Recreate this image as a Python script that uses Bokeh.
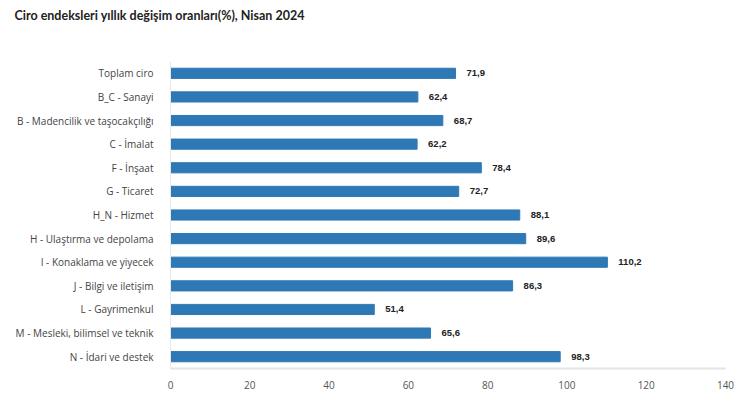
from bokeh.plotting import figure
from bokeh.models import ColumnDataSource, FactorRange, LabelSet, Range1d, FixedTicker, Title
from bokeh.core.properties import value
from bokeh.embed import file_html
from bokeh.resources import INLINE

categories = ["Toplam ciro", "B_C - Sanayi", "B - Madencilik ve taşocakçılığı", "C - İmalat",
              "F - İnşaat", "G - Ticaret", "H_N - Hizmet", "H - Ulaştırma ve depolama",
              "I - Konaklama ve yiyecek", "J - Bilgi ve iletişim", "L - Gayrimenkul",
              "M - Mesleki, bilimsel ve teknik", "N - İdari ve destek"]
values = [71.9, 62.4, 68.7, 62.2, 78.4, 72.7, 88.1, 89.6, 110.2, 86.3, 51.4, 65.6, 98.3]
x_ticks = [0, 20, 40, 60, 80, 100, 120, 140]
title_text = "Ciro endeksleri yıllık değişim oranları(%), Nisan 2024"

labels = [f"{v:.1f}".replace(".", ",") for v in values]
src = ColumnDataSource(dict(cat=categories, val=values, lab=labels))

p = figure(width=734, height=391, output_backend="svg", toolbar_location=None,
           y_range=FactorRange(*reversed(categories), range_padding=0),
           x_range=Range1d(0, 140),
           min_border_left=170, min_border_right=9, min_border_top=0, min_border_bottom=0)
p.title.visible = False
p.title.text = ""

spacer = Title(text=" ", text_font_size="10px", standoff=26, align="left")
p.add_layout(spacer, "above")
t = Title(text=title_text, text_font="Lato", text_font_size="12.5px", text_font_style="bold",
          text_color="#222222", align="left", offset=-156, standoff=0)
p.add_layout(t, "above")
top_spacer = Title(text=" ", text_font_size="3px", standoff=0, align="left")
p.add_layout(top_spacer, "above")

p.hbar(y="cat", right="val", left=0, height=0.43, source=src, color="#2f78b6")

lbl = LabelSet(x="val", y="cat", text="lab", source=src, x_offset=11, y_offset=0,
               text_baseline="middle", text_font=value("Arial"), text_font_size=value("9.5px"),
               text_font_style="bold", text_color="#222222")
p.add_layout(lbl)

p.outline_line_color = None
p.xgrid.grid_line_color = None
p.ygrid.grid_line_color = None

p.xaxis.ticker = FixedTicker(ticks=x_ticks)
p.xaxis.axis_line_color = "#e4e4e4"
p.xaxis.axis_line_width = 2
p.xaxis.major_tick_line_color = None
p.xaxis.minor_tick_line_color = None
p.xaxis.major_label_text_font = "Open Sans"
p.xaxis.major_label_text_font_size = "10px"
p.xaxis.major_label_text_color = "#555555"
p.xaxis.major_label_standoff = 6

p.yaxis.axis_line_color = "#e8e8e8"
p.yaxis.major_tick_line_color = None
p.yaxis.minor_tick_line_color = None
p.yaxis.major_label_text_font = "Open Sans"
p.yaxis.major_label_text_font_size = "10px"
p.yaxis.major_label_text_color = "#444444"
p.yaxis.major_label_standoff = 11

open("out.html", "w").write(file_html(p, INLINE))
